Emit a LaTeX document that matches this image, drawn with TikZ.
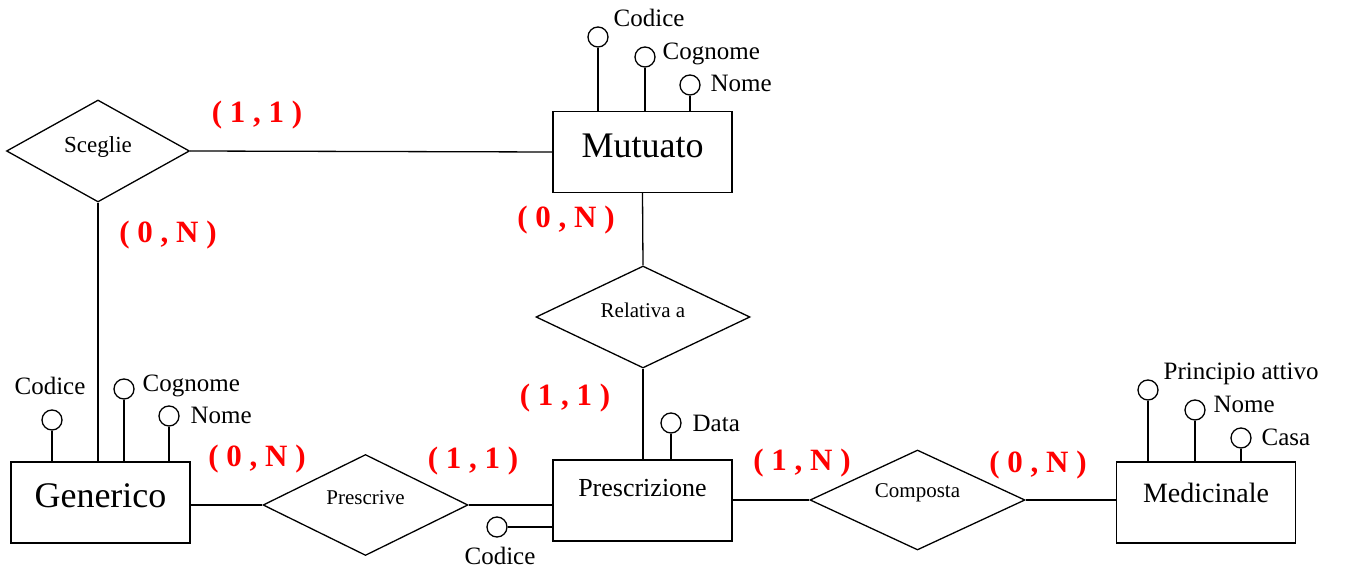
\documentclass[tikz,border=0pt]{standalone}
\usepackage{fontspec}
\setmainfont{Liberation Serif}
\usetikzlibrary{shapes.geometric}
\begin{document}
\begin{tikzpicture}[x=1pt,y=-1pt,line width=1.3pt,
  ent/.style={draw,rectangle,minimum width=179,minimum height=81,inner sep=0},
  rel/.style={draw,diamond,inner sep=0},
  rtext/.style={font=\fontsize{21}{24}\selectfont,yshift=7pt},
  att/.style={draw,circle,minimum size=20,inner sep=0,fill=white},
  attl/.style={inner sep=0,anchor=west,font=\fontsize{25}{28}\selectfont},
  card/.style={inner sep=0,text=red,font=\fontsize{31}{34}\selectfont\bfseries}]
\useasboundingbox (0,0) rectangle (1345,569);
% entities
\node[ent,label={[font=\fontsize{36}{40}\selectfont,yshift=6pt]center:Mutuato}] (mut) at (642.5,152) {};
\node[ent,label={[font=\fontsize{36}{40}\selectfont,yshift=7pt]center:Generico}] (gen) at (100.5,502.5) {};
\node[ent,label={[font=\fontsize{26}{30}\selectfont,yshift=12pt]center:Prescrizione}] (pre) at (642.5,500.5) {};
\node[ent,label={[font=\fontsize{28}{32}\selectfont,yshift=10pt]center:Medicinale}] (med) at (1206,502.5) {};
% relationships
\node[rel,minimum width=183,minimum height=102,label={[rtext,font=\fontsize{23}{26}\selectfont,yshift=-3pt]center:Sceglie}] (sce) at (98,151) {};
\node[rel,minimum width=214,minimum height=102,label={[rtext]center:Relativa a}] (rela) at (643,317) {};
\node[rel,minimum width=205,minimum height=101,label={[rtext]center:Prescrive}] (presc) at (365.5,505) {};
\node[rel,minimum width=215,minimum height=100,label={[rtext]center:Composta}] (comp) at (917.5,500) {};
% connectors
\draw (sce.east) -- (mut.west);
\draw (sce.south) -- (sce.south |- gen.north);
\draw (mut.south) -- (rela.north);
\draw (rela.south) -- (rela.south |- pre.north);
\draw (gen.east |- presc.west) -- (presc.west);
\draw (presc.east) -- (presc.east -| pre.west);
\draw (pre.east |- comp.west) -- (comp.west);
\draw (comp.east) -- (comp.east -| med.west);
% attributes Mutuato
\node[att] (mc) at (598,37) {};
\node[att] (mg) at (645,57) {};
\node[att] (mn) at (690,85) {};
\draw (mc) -- (mc |- mut.north);
\draw (mg) -- (mg |- mut.north);
\draw (mn) -- (mn |- mut.north);
\node[attl] (mcl) at (613,18) {Codice};
\node[attl] (mgl) at (662,54) {Cognome};
\node[attl] (mnl) at (710,83) {Nome};
% attributes Generico
\node[att] (gc) at (52,420) {};
\node[att] (gg) at (124,389) {};
\node[att] (gn) at (169,416) {};
\draw (gc) -- (gc |- gen.north);
\draw (gg) -- (gg |- gen.north);
\draw (gn) -- (gn |- gen.north);
\node[attl,anchor=center] (gcl) at (50,386) {Codice};
\node[attl] (ggl) at (142,386) {Cognome};
\node[attl] (gnl) at (190,415) {Nome};
% attributes Prescrizione
\node[att] (pd) at (671,423) {};
\draw (pd) -- (pd |- pre.north);
\node[attl] (pdl) at (692,423) {Data};
\node[att] (pc) at (497,527) {};
\draw (pc) -- (pc -| pre.west);
\node[attl,anchor=center] (pcl) at (500,556) {Codice};
% attributes Medicinale
\node[att] (dp) at (1148,390) {};
\node[att] (dn) at (1195,410) {};
\node[att] (dc) at (1241,438) {};
\draw (dp) -- (dp |- med.north);
\draw (dn) -- (dn |- med.north);
\draw (dc) -- (dc |- med.north);
\node[attl] (dpl) at (1163,374) {Principio attivo};
\node[attl] (dnl) at (1213,404) {Nome};
\node[attl] (dcl) at (1261,437) {Casa};
% cardinalities
\node[card] (k1) at (257,115) {( 1 , 1 )};
\node[card] (k2) at (168,235) {( 0 , N )};
\node[card] (k3) at (566,220) {( 0 , N )};
\node[card] (k4) at (565,398) {( 1 , 1 )};
\node[card] (k5) at (257,459) {( 0 , N )};
\node[card] (k6) at (473,461) {( 1 , 1 )};
\node[card] (k7) at (802,463) {( 1 , N )};
\node[card] (k8) at (1038,465) {( 0 , N )};
\end{tikzpicture}
\end{document}
